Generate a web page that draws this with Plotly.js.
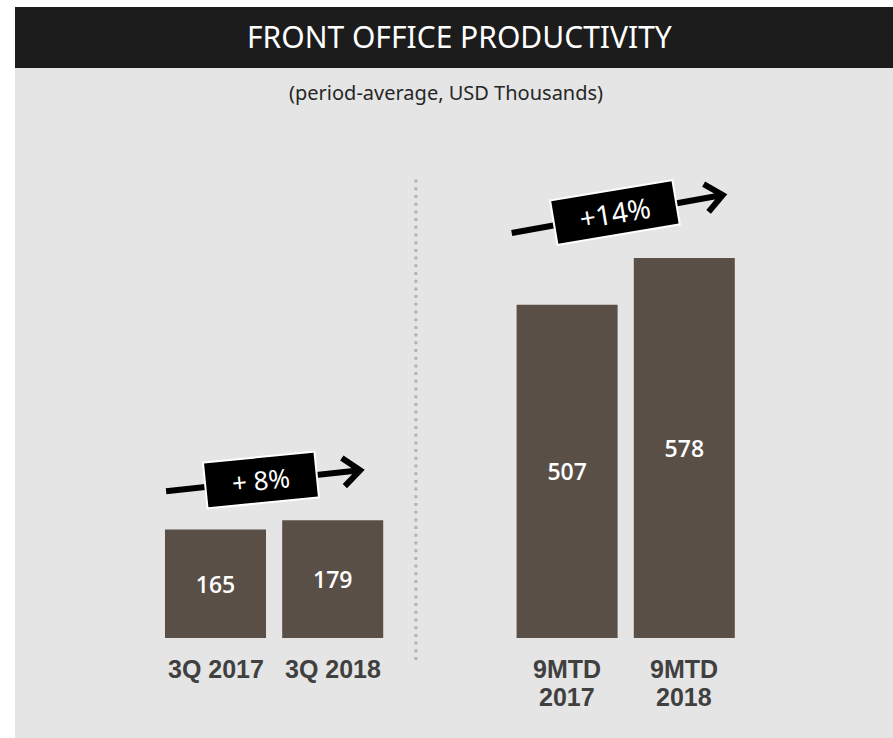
<!DOCTYPE html>
<html>
<head>
<meta charset="utf-8">
<script src="https://cdn.plot.ly/plotly-3.0.1.min.js"></script>
<style>
  html, body { margin: 0; padding: 0; background: #fff; }
  #chart { width: 893px; height: 738px; }
</style>
</head>
<body>
<div id="chart"></div>
<script>
const categories = ["3Q 2017", "3Q 2018", "9MTD<br>2017", "9MTD<br>2018"];
const groups = ["3Q", "3Q", "9MTD", "9MTD"];
const values = [165, 179, 507, 578];
const growthLabels = ["+ 8%", "+14%"];

const W = 893;
const H = 738;
const BAR = "#5a4f47";
const PANEL = "#e5e5e5";
const HEADER = "#1c1c1c";

// one empty slot between the two groups
const groupNames = [...new Set(groups)];
const slots = groups.map((g, i) => i + groupNames.indexOf(g));

// per-arrow look (pixel offsets from the group's top centre)
const arrowLook = [
  { angle: -5.7, start: [-108, 29], end: [86, 50], box: [110, 44], shift: [-13, 40], size: 26 },
  { angle: -9.5, start: [-114, 25], end: [97, 63], box: [122, 43], shift: [-11, 45], size: 28 }
];

function arrowPath(look) {
  const [sx, sy] = look.start;
  const [ex, ey] = look.end;
  const len = Math.hypot(ex - sx, ey - sy);
  const dx = (ex - sx) / len;
  const dy = (ey - sy) / len;
  const arm = 22;
  const a = 40 * Math.PI / 180;
  const rot = (s) => [
    ex - arm * (dx * Math.cos(s * a) - dy * Math.sin(s * a)),
    ey - arm * (dx * Math.sin(s * a) + dy * Math.cos(s * a))
  ];
  const [p1x, p1y] = rot(1);
  const [p2x, p2y] = rot(-1);
  return `M${sx},${sy} L${ex},${ey} M${p1x},${p1y} L${ex},${ey} L${p2x},${p2y}`;
}

const shapes = [
  { type: "rect", xref: "paper", yref: "paper", x0: 15 / W, x1: 1, y0: 0, y1: 1 - 68 / H,
    fillcolor: PANEL, line: { width: 0 }, layer: "below" },
  { type: "rect", xref: "paper", yref: "paper", x0: 15 / W, x1: 1, y0: 1 - 68 / H, y1: 1 - 7 / H,
    fillcolor: HEADER, line: { width: 0 }, layer: "below" }
];

// dotted separator between the groups
const firstOfSecond = slots[groups.indexOf(groupNames[1])];
shapes.push({
  type: "line", xref: "x", yref: "y",
  xsizemode: "pixel", ysizemode: "pixel",
  xanchor: firstOfSecond - 1, yanchor: 0,
  x0: -34, x1: -34, y0: -22, y1: 462,
  line: { color: "#b3b3b3", width: 3, dash: "3px,4.7px" }
});

const annotations = [
  { text: "FRONT OFFICE PRODUCTIVITY", xref: "paper", yref: "paper",
    x: 459 / W, y: 1 - 36 / H, xanchor: "center", yanchor: "middle", showarrow: false,
    font: { family: "Noto Sans", size: 30, color: "#ffffff" } },
  { text: "(period-average, USD Thousands)", xref: "paper", yref: "paper",
    x: 446 / W, y: 1 - 92 / H, xanchor: "center", yanchor: "middle", showarrow: false,
    font: { family: "Noto Sans", size: 20, color: "#262626" } }
];

// category labels, one annotation per line for tight line spacing
categories.forEach((c, i) => {
  c.split("<br>").forEach((line, k) => {
    annotations.push({
      text: line, x: slots[i], y: 0, xref: "x", yref: "y",
      xanchor: "center", yanchor: "middle", yshift: -(31 + 28 * k), showarrow: false,
      font: { family: "Liberation Sans, Arial", size: 25, color: "#404040", weight: "bold" }
    });
  });
});

groupNames.forEach((g, gi) => {
  const idx = groups.map((v, i) => (v === g ? i : -1)).filter((i) => i >= 0);
  const mid = idx.reduce((s, i) => s + slots[i], 0) / idx.length;
  const top = Math.max(...idx.map((i) => values[i]));
  const look = arrowLook[gi];
  shapes.push({
    type: "path", xref: "x", yref: "y",
    xsizemode: "pixel", ysizemode: "pixel", xanchor: mid, yanchor: top,
    path: arrowPath(look),
    line: { color: "#000000", width: 6 }
  });
  annotations.push({
    text: growthLabels[gi], x: mid, y: top, xref: "x", yref: "y",
    xshift: look.shift[0], yshift: look.shift[1],
    xanchor: "center", yanchor: "middle", showarrow: false,
    textangle: look.angle, width: look.box[0], height: look.box[1],
    bgcolor: "#000000", bordercolor: "#ffffff", borderwidth: 2, borderpad: 0,
    font: { family: "Noto Sans", size: look.size, color: "#ffffff" }
  });
});

const trace = {
  type: "bar",
  x: slots,
  y: values,
  width: 0.862,
  marker: { color: BAR, line: { width: 0 } },
  text: values.map(String),
  textposition: "inside",
  insidetextanchor: "middle",
  textangle: 0,
  constraintext: "none",
  textfont: { family: "Open Sans", size: 23, color: "#ffffff", weight: 600 },
  hoverinfo: "skip"
};

const step = 117.2;     // px per slot
const x0px = 215.5;     // px of slot 0
const yScale = 0.6575;  // px per unit
const y0px = 638;       // px of the baseline

const layout = {
  width: W,
  height: H,
  margin: { l: 0, r: 0, t: 0, b: 0 },
  paper_bgcolor: "#ffffff",
  plot_bgcolor: "rgba(0,0,0,0)",
  showlegend: false,
  xaxis: { range: [-x0px / step, (W - x0px) / step], visible: false, fixedrange: true },
  yaxis: { range: [-(H - y0px) / yScale, y0px / yScale], visible: false, fixedrange: true },
  shapes,
  annotations
};

Plotly.newPlot("chart", [trace], layout, { displayModeBar: false, staticPlot: true });
</script>
</body>
</html>
